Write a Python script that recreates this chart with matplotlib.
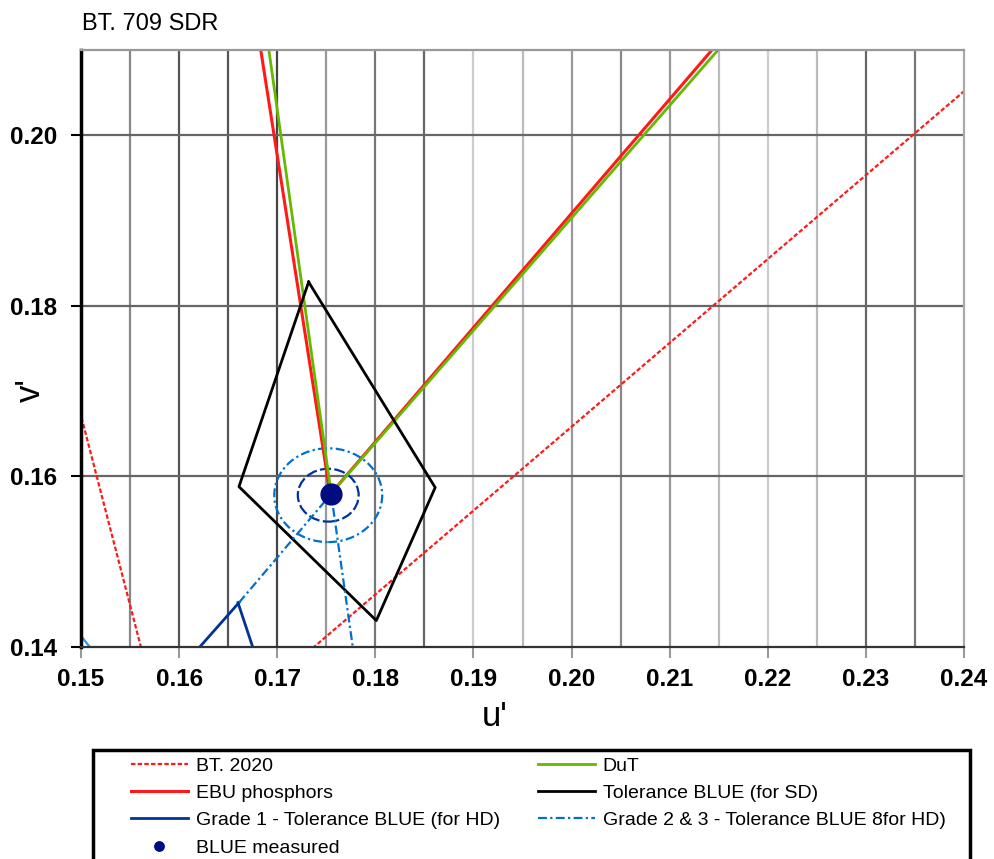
import matplotlib
matplotlib.use('Agg')
import matplotlib.pyplot as plt
from matplotlib.patches import Circle, Rectangle

plt.rcParams['font.family'] = ['Liberation Sans', 'DejaVu Sans']

# u'v' coordinates (R -> B -> G)
bt2020_u = [0.5566, 0.1593, 0.0556]
bt2020_v = [0.5165, 0.1258, 0.5868]
ebu_u = [0.4500, 0.1754, 0.1206]
ebu_v = [0.5256, 0.1579, 0.5613]
dut_u = [0.4500, 0.1755, 0.1264]
dut_v = [0.5200, 0.1580, 0.5600]

# tolerance BLUE for SD (quadrilateral)
tol_sd_u = [0.1732, 0.1861, 0.1801, 0.1661, 0.1732]
tol_sd_v = [0.1828, 0.1587, 0.1431, 0.1588, 0.1828]

# HD tolerance: circles and line pieces
hd_center = (0.1752, 0.1578)
grade1_radius = 0.0031
grade23_radius = 0.0055
grade1_seg_a_u = [0.1621, 0.1661]
grade1_seg_a_v = [0.1400, 0.1452]
grade1_seg_b_u = [0.1660, 0.1675]
grade1_seg_b_v = [0.1452, 0.1400]
grade23_seg_a_u = [0.1661, 0.1748]
grade23_seg_a_v = [0.1452, 0.1570]
grade23_seg_b_u = [0.1757, 0.1777]
grade23_seg_b_v = [0.1563, 0.1400]
grade23_seg_c_u = [0.1496, 0.1500, 0.1509]
grade23_seg_c_v = [0.1400, 0.1413, 0.1400]

blue_meas = (0.1755, 0.1579)

x_ticks = [0.15, 0.16, 0.17, 0.18, 0.19, 0.20, 0.21, 0.22, 0.23, 0.24]
y_ticks = [0.14, 0.16, 0.18, 0.20]
vgrid_pos = [0.155, 0.16, 0.165, 0.17, 0.175, 0.18, 0.185, 0.19, 0.195,
             0.20, 0.205, 0.21, 0.215, 0.22, 0.225, 0.23, 0.235]
vgrid_col = ['#888888', '#555555', '#555555', '#444444', '#999999', '#777777',
             '#666666', '#cccccc', '#bbbbbb', '#999999', '#888888', '#999999',
             '#bbbbbb', '#cccccc', '#bbbbbb', '#666666', '#777777']

red = '#ff1a1a'
green = '#66b800'
navy = '#003399'
lblue = '#0070d0'

fig = plt.figure(figsize=(9.95, 8.59), dpi=100)
ax = fig.add_axes([81 / 995, 1 - 647 / 859, 883 / 995, 597 / 859])

for xp, c in zip(vgrid_pos, vgrid_col):
    ax.axvline(xp, color=c, lw=1.6, zorder=0)
for yp in [0.16, 0.18, 0.20]:
    ax.axhline(yp, color='#666666', lw=1.6, zorder=0)

h_bt = ax.plot(bt2020_u, bt2020_v, color=red, lw=1.6, ls=(0, (2, 1)), label='BT. 2020')[0]
h_ebu = ax.plot(ebu_u, ebu_v, color=red, lw=2.2, label='EBU phosphors')[0]
h_dut = ax.plot(dut_u, dut_v, color=green, lw=2, label='DuT')[0]
h_sd = ax.plot(tol_sd_u, tol_sd_v, color='black', lw=2, label='Tolerance BLUE (for SD)')[0]

h_g1 = ax.plot(grade1_seg_a_u, grade1_seg_a_v, color=navy, lw=2,
               label='Grade 1 - Tolerance BLUE (for HD)')[0]
ax.plot(grade1_seg_b_u, grade1_seg_b_v, color=navy, lw=2)
h_g23 = ax.plot(grade23_seg_a_u, grade23_seg_a_v, color=lblue, lw=1.6,
                ls=(0, (4, 1.5, 1, 1.5)), label='Grade 2 & 3 - Tolerance BLUE 8for HD)')[0]
ax.plot(grade23_seg_b_u, grade23_seg_b_v, color=lblue, lw=1.6, ls=(0, (4, 1.5, 1, 1.5)))
ax.plot(grade23_seg_c_u, grade23_seg_c_v, color='#1e9bff', lw=1.6)

ax.add_patch(Circle(hd_center, grade1_radius, fill=False, edgecolor=navy, lw=1.6,
                    ls=(0, (5, 1.5))))
ax.add_patch(Circle(hd_center, grade23_radius, fill=False, edgecolor=lblue, lw=1.6,
                    ls=(0, (4, 1.5, 1, 1.5))))

h_meas = ax.plot([blue_meas[0]], [blue_meas[1]], 'o', color='#000c80', ms=15,
                 ls='None', label='BLUE measured', zorder=5)[0]

ax.set_xlim(0.15, 0.24)
ax.set_ylim(0.14, 0.21)
ax.set_xticks(x_ticks)
ax.set_yticks(y_ticks)
ax.set_xticklabels(['%.2f' % t for t in x_ticks], fontsize=17.5, fontweight='bold')
ax.set_yticklabels(['%.2f' % t for t in y_ticks], fontsize=17.5, fontweight='bold')
ax.tick_params(axis='x', length=8, width=1.5, color='#999999', pad=7)
ax.tick_params(axis='y', length=7, width=1.5, color='black', pad=10)

ax.spines['left'].set_color('black')
ax.spines['left'].set_linewidth(2.5)
ax.spines['bottom'].set_color('#333333')
ax.spines['bottom'].set_linewidth(1.6)
ax.spines['top'].set_color('#999999')
ax.spines['top'].set_linewidth(1.6)
ax.spines['right'].set_color('#aaaaaa')
ax.spines['right'].set_linewidth(1.6)

fig.text(82 / 995, 1 - 30 / 859, 'BT. 709 SDR', fontsize=17, ha='left', va='baseline')
fig.text(495 / 995, 1 - 717 / 859, "u'", fontsize=25, ha='center', va='center')
fig.text(30 / 995, 1 - 390 / 859, "v'", fontsize=25, ha='center', va='center', rotation=90)

leg_kw = dict(loc='upper left', frameon=False, borderpad=0, borderaxespad=0,
              handlelength=2.92, handletextpad=0.4, labelspacing=0.5,
              fontsize=14, numpoints=1, markerscale=0.45)
fig.legend(handles=[h_bt, h_ebu, h_g1, h_meas],
           bbox_to_anchor=(131 / 995, 1 - 757 / 859), **leg_kw)
fig.legend(handles=[h_dut, h_sd, h_g23],
           bbox_to_anchor=(538 / 995, 1 - 757 / 859), **leg_kw)
fig.add_artist(Rectangle((93 / 995, -0.05), 877 / 995, 0.05 + 1 - 750 / 859,
                         transform=fig.transFigure, fill=False, edgecolor='black', lw=2.5))

fig.savefig('out.png', dpi=100)
